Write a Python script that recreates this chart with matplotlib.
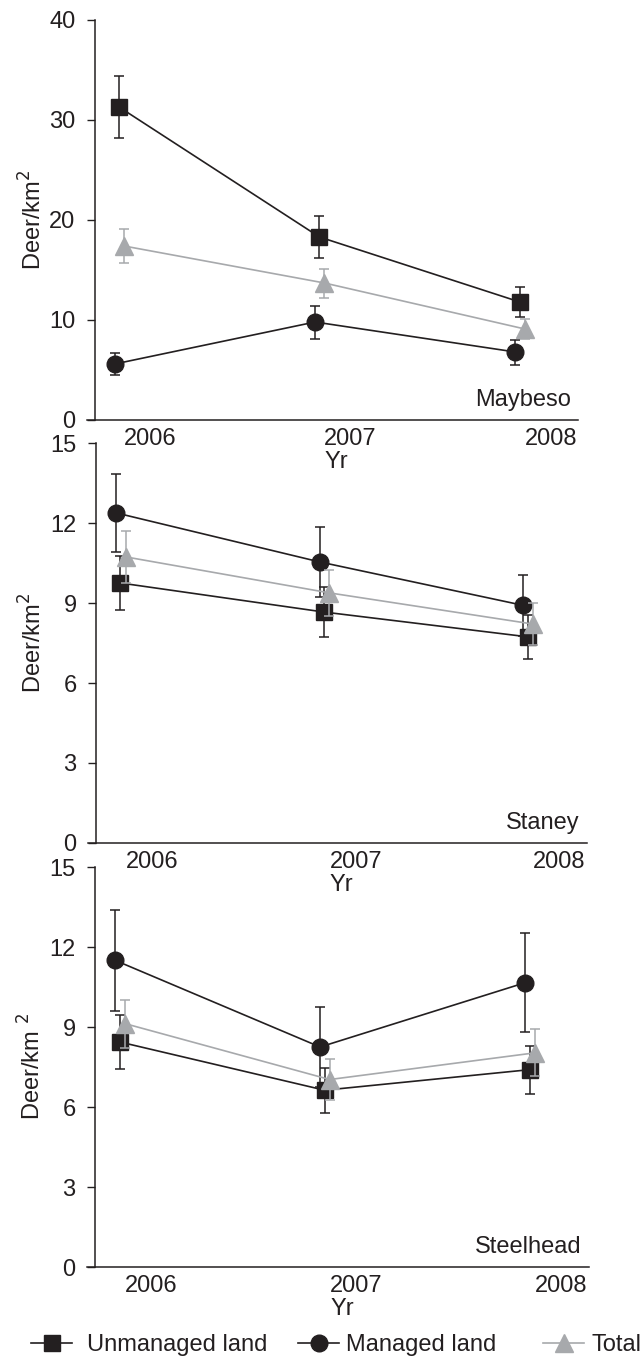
import numpy as np
import matplotlib.pyplot as plt
from matplotlib.lines import Line2D

plt.rcParams['font.family'] = ['Liberation Sans', 'DejaVu Sans']

years = ['2006', '2007', '2008']
sites = ['Maybeso', 'Staney', 'Steelhead']

# Maybeso
maybeso_unmanaged = [31.3, 18.3, 11.8]
maybeso_unmanaged_err = [3.1, 2.1, 1.5]
maybeso_managed = [5.6, 9.8, 6.8]
maybeso_managed_err = [1.1, 1.65, 1.25]
maybeso_total = [17.4, 13.7, 9.1]
maybeso_total_err = [1.7, 1.45, 1.0]

# Staney
staney_unmanaged = [9.75, 8.66, 7.73]
staney_unmanaged_err = [1.0, 0.95, 0.82]
staney_managed = [12.38, 10.54, 8.91]
staney_managed_err = [1.45, 1.3, 1.15]
staney_total = [10.73, 9.38, 8.21]
staney_total_err = [0.98, 0.85, 0.78]

# Steelhead
steelhead_unmanaged = [8.44, 6.63, 7.4]
steelhead_unmanaged_err = [1.0, 0.85, 0.9]
steelhead_managed = [11.5, 8.25, 10.66]
steelhead_managed_err = [1.9, 1.5, 1.85]
steelhead_total = [9.13, 7.03, 8.03]
steelhead_total_err = [0.9, 0.78, 0.88]

ymax = [40, 15, 15]
yticks = [[0, 10, 20, 30, 40], [0, 3, 6, 9, 12, 15], [0, 3, 6, 9, 12, 15]]
ylabels = ['Deer/km$^2$', 'Deer/km$^2$', 'Deer/km $^2$']
legend_labels = ['Unmanaged land', 'Managed land', 'Total']

data = [
    (maybeso_unmanaged, maybeso_unmanaged_err, maybeso_managed, maybeso_managed_err,
     maybeso_total, maybeso_total_err),
    (staney_unmanaged, staney_unmanaged_err, staney_managed, staney_managed_err,
     staney_total, staney_total_err),
    (steelhead_unmanaged, steelhead_unmanaged_err, steelhead_managed, steelhead_managed_err,
     steelhead_total, steelhead_total_err),
]

black = '#231f20'
grey = '#a7a9ac'
fs = 17

W, H = 644, 1359
fig = plt.figure(figsize=(W / 100, H / 100), dpi=100)

# axes boxes in pixels: left, right, top, bottom
boxes = [(95, 578, 20, 420), (96, 587, 443, 843), (95, 589, 867, 1267)]

x = np.arange(3)
for i, (l, r, t, b) in enumerate(boxes):
    ax = fig.add_axes([l / W, 1 - b / H, (r - l) / W, (b - t) / H])
    un, une, ma, mae, to, toe = data[i]

    ax.errorbar(x, un, yerr=une, color=black, marker='s', markersize=12, lw=1.2,
                elinewidth=1.1, capsize=3.5, capthick=1.1, zorder=3)
    ax.errorbar(x - 0.022, ma, yerr=mae, color=black, marker='o', markersize=12, lw=1.2,
                elinewidth=1.1, capsize=3.5, capthick=1.1, zorder=3)
    ax.errorbar(x + 0.025, to, yerr=toe, color=grey, marker='^', markersize=12.5, lw=1.2,
                elinewidth=1.1, capsize=3.5, capthick=1.1, zorder=4)

    ax.set_xlim(-0.12, 2.29)
    ax.set_ylim(0, ymax[i])
    ax.set_yticks(yticks[i])
    ax.set_xticks(x + 0.155)
    ax.set_xticklabels(years)
    ax.tick_params(axis='x', length=0, pad=6, labelsize=fs, colors=black)
    ax.tick_params(axis='y', length=6, width=1.0, direction='out', pad=8, labelsize=fs,
                   colors=black)
    for s in ['top', 'right']:
        ax.spines[s].set_visible(False)
    for s in ['left', 'bottom']:
        ax.spines[s].set_linewidth(1.1)
        ax.spines[s].set_color(black)
    ax.spines['bottom'].set_bounds(-0.12 - 8 / 200, 2.29)

    ax.set_xlabel('Yr', fontsize=fs, color=black)
    ax.xaxis.set_label_coords(0.5, -0.078)
    ax.set_ylabel(ylabels[i], fontsize=fs, color=black)
    ax.yaxis.set_label_coords(-0.10, 0.5)

    ax.text(0.985, 0.05, sites[i], transform=ax.transAxes, ha='right', va='center',
            fontsize=fs, color=black)
    ax.patch.set_alpha(0)

handles = [
    Line2D([], [], color=black, marker='s', markersize=12, lw=1.2),
    Line2D([], [], color=black, marker='o', markersize=12, lw=1.2),
    Line2D([], [], color=grey, marker='^', markersize=12.5, lw=1.2),
]
legend_x = [31, 298, 543]
text_pad = [0.64, 0.3, 0.3]
for h, lab, lx, tp in zip(handles, legend_labels, legend_x, text_pad):
    fig.legend([h], [lab], loc='center left', bbox_to_anchor=(lx / W, 1 - 1345 / H),
               frameon=False, fontsize=fs, handlelength=1.75, handletextpad=tp,
               borderpad=0, borderaxespad=0, labelcolor=black)

fig.savefig('out.png', dpi=100)
